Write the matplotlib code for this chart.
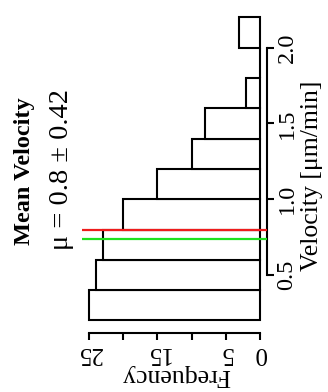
import numpy as np
import matplotlib
matplotlib.use("Agg")
import matplotlib.pyplot as plt

# histogram of velocities (bins 0.2 wide)
bin_edges = [0.2, 0.4, 0.6, 0.8, 1.0, 1.2, 1.4, 1.6, 1.8, 2.0, 2.2]
counts = [25, 24, 23, 20, 15, 10, 8, 2, 0, 3]
mean_vel = 0.8
median_vel = 0.74
freq_ticks = [0, 5, 10, 15, 20, 25]
freq_labels = ["0", "5", "", "15", "", "25"]
vel_ticks = [0.5, 1.0, 1.5, 2.0]
vel_labels = ["0.5", "1.0", "1.5", "2.0"]

plt.rcParams["font.family"] = ["Liberation Serif", "DejaVu Serif"]

W, H = 328, 392
fig = plt.figure(figsize=(W / 100, H / 100), dpi=100)
ax = fig.add_axes([82.2 / W, 1 - 332.6 / H, (266.8 - 82.2) / W, (332.6 - 5.3) / H])

edges = np.array(bin_edges)
ax.barh(edges[:-1], counts, height=np.diff(edges), align="edge",
        color="white", edgecolor="black", linewidth=1.5)
ax.axhline(mean_vel, color="#ee1c1c", lw=1.6, zorder=3)
ax.axhline(median_vel, color="#1ee01e", lw=1.6, zorder=3)

ax.set_xlim(26, -1)
ax.set_ylim(0.12, 2.28)

for s in ["top", "left"]:
    ax.spines[s].set_visible(False)
ax.spines["bottom"].set_bounds(0, 25)
ax.spines["right"].set_bounds(0.5, 2.0)
for s in ["bottom", "right"]:
    ax.spines[s].set_linewidth(1.5)

ax.set_xticks(freq_ticks)
ax.set_xticklabels(freq_labels, rotation=180, fontsize=18)
ax.yaxis.tick_right()
ax.set_yticks(vel_ticks)
ax.set_yticklabels(vel_labels, rotation=90, va="center", fontsize=17.5)
ax.tick_params(axis="both", direction="out", length=5, width=1.5)
ax.tick_params(axis="x", pad=2)
ax.tick_params(axis="y", pad=2)

fig.text(176 / W, 1 - 375 / H, "Frequency", rotation=180,
         ha="center", va="center", fontsize=18.5)
fig.text(312 / W, 1 - 176 / H, "Velocity [\u03bcm/min]", rotation=90,
         ha="center", va="center", fontsize=18.5)
fig.text(25 / W, 1 - 171 / H, "Mean Velocity", rotation=90,
         ha="center", va="center", fontsize=17.5, fontweight="bold")
fig.text(62 / W, 1 - 169 / H, "\u03bc = 0.8 \u00b1 0.42", rotation=90,
         ha="center", va="center", fontsize=20.5)

plt.savefig("out.png", dpi=100)
